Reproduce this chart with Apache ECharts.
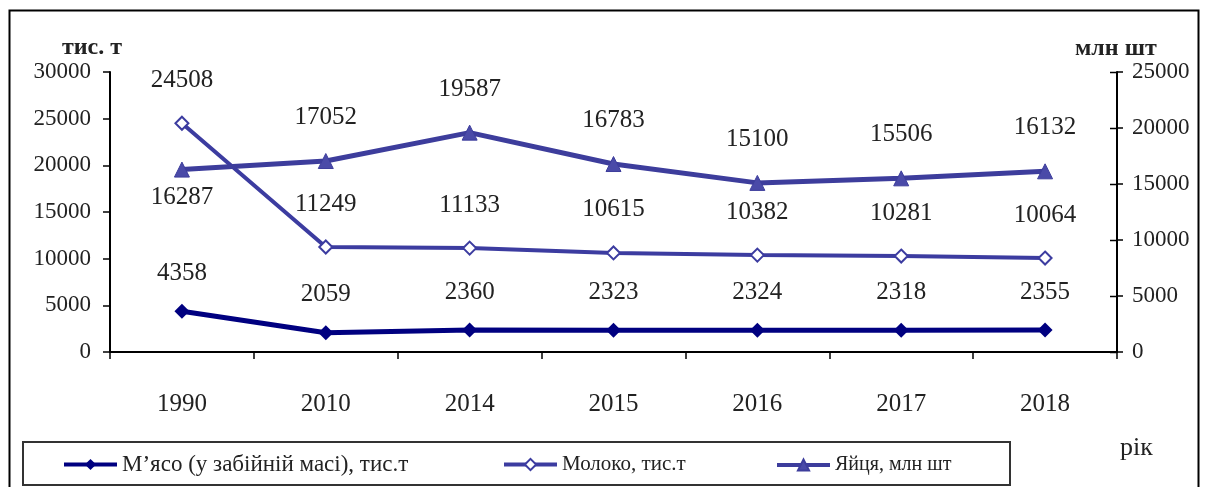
<!DOCTYPE html>
<html><head><meta charset="utf-8">
<script src="https://cdn.jsdelivr.net/npm/echarts@6/dist/echarts.min.js"></script>
<style>html,body{margin:0;padding:0;background:#fff}#c{width:1208px;height:487px}</style>
</head><body><div id="c"></div>
<script>
const years = ['1990','2010','2014','2015','2016','2017','2018'];
const meat = [4358, 2059, 2360, 2323, 2324, 2318, 2355];
const milk = [24508, 11249, 11133, 10615, 10382, 10281, 10064];
const eggs = [16287, 17052, 19587, 16783, 15100, 15506, 16132];
const leftTicks = {min: 0, max: 30000, interval: 5000};
const rightTicks = {min: 0, max: 25000, interval: 5000};
const names = ['М’ясо (у забійній масі), тис.т', 'Молоко, тис.т', 'Яйця, млн шт'];

const serif = '"Liberation Serif", "DejaVu Serif", serif';
const chart = echarts.init(document.getElementById('c'));
const lblBase = {show: true, fontFamily: serif, fontSize: 25, color: '#222'};
const legendBase = {
  itemWidth: 53, itemHeight: 14, itemGap: 5, padding: 0,
  lineStyle: {width: 4}
};
const baseGraphics = [
  {id: 'frame', type: 'rect', shape: {x: 9.5, y: 10.5, width: 1189, height: 490}, style: {fill: 'none', stroke: '#000', lineWidth: 2}, z: -1},
  {id: 'lbox', type: 'rect', shape: {x: 23, y: 442, width: 987, height: 43}, style: {fill: 'none', stroke: '#333', lineWidth: 2}, z: -1},
  {id: 't1', type: 'text', left: 62, top: 36, style: {text: 'тис. т', font: 'bold 24px ' + serif, fill: '#222'}},
  {id: 't2', type: 'text', left: 1075, top: 37, style: {text: 'млн шт', font: 'bold 24px ' + serif, fill: '#222'}},
  {id: 't3', type: 'text', left: 1120, top: 435, style: {text: 'рік', font: '26px ' + serif, fill: '#222'}}
];
chart.setOption({
  animation: false,
  graphic: baseGraphics,
  grid: {left: 110, right: 91, top: 72, bottom: 135},
  legend: [
    Object.assign({}, legendBase, {left: 62, top: 453, data: [names[0]], textStyle: {fontFamily: serif, fontSize: 23, color: '#222'}}),
    Object.assign({}, legendBase, {left: 502, top: 454, data: [names[1]], textStyle: {fontFamily: serif, fontSize: 21, color: '#222'}}),
    Object.assign({}, legendBase, {left: 775, top: 455, data: [names[2]], textStyle: {fontFamily: serif, fontSize: 20, color: '#222'}})
  ],
  xAxis: {
    type: 'category', data: years, boundaryGap: true,
    axisLine: {lineStyle: {color: '#000', width: 2}},
    axisTick: {show: true, length: 7, lineStyle: {color: '#000', width: 1.5}},
    axisLabel: {margin: 40, fontFamily: serif, fontSize: 25, color: '#222'}
  },
  yAxis: [
    {type: 'value', position: 'left', min: leftTicks.min, max: leftTicks.max, interval: leftTicks.interval,
     splitLine: {show: false},
     axisLine: {show: true, lineStyle: {color: '#000', width: 2}},
     axisTick: {show: true, length: 7, lineStyle: {color: '#000', width: 1.5}},
     axisLabel: {margin: 19, fontFamily: serif, fontSize: 23, color: '#222', formatter: v => String(v)}},
    {type: 'value', position: 'right', min: rightTicks.min, max: rightTicks.max, interval: rightTicks.interval,
     splitLine: {show: false},
     axisLine: {show: true, lineStyle: {color: '#000', width: 2}},
     axisTick: {show: true, length: 6, lineStyle: {color: '#000', width: 1.5}},
     axisLabel: {margin: 15, fontFamily: serif, fontSize: 23, color: '#222', formatter: v => String(v)}}
  ],
  series: [
    {name: names[0], type: 'line', yAxisIndex: 0, data: meat,
     symbol: 'diamond', symbolSize: 15,
     lineStyle: {color: '#000080', width: 5}, itemStyle: {color: '#000080'},
     label: Object.assign({}, lblBase, {position: 'top', distance: 18})},
    {name: names[1], type: 'line', yAxisIndex: 0, data: milk,
     symbol: 'diamond', symbolSize: 13,
     lineStyle: {color: '#3c3ca0', width: 4}, itemStyle: {color: '#fff', borderColor: '#3c3ca0', borderWidth: 2},
     label: Object.assign({}, lblBase, {position: 'top', distance: 23})},
    {name: names[2], type: 'line', yAxisIndex: 1,
     data: eggs.map((v, i) => i === 0 ? {value: v, label: {position: 'bottom', distance: 7}} : v),
     symbol: 'triangle', symbolSize: 15,
     lineStyle: {color: '#3d3d9c', width: 5}, itemStyle: {color: '#4a4aa8', borderColor: '#3d3d9c', borderWidth: 1},
     label: Object.assign({}, lblBase, {position: 'top', distance: 23})}
  ]
});
// inner half of the crossing ticks on the right axis, placed through the axis scale
const innerTicks = [];
for (let v = rightTicks.min; v <= rightTicks.max; v += rightTicks.interval) {
  const y = Math.round(chart.convertToPixel({yAxisIndex: 1}, v)) + 0.5;
  innerTicks.push({id: 'it' + v, type: 'line', shape: {x1: 1110, y1: y, x2: 1117, y2: y}, style: {stroke: '#000', lineWidth: 1.5}, z: 10});
}
chart.setOption({graphic: baseGraphics.concat(innerTicks)});
</script></body></html>
